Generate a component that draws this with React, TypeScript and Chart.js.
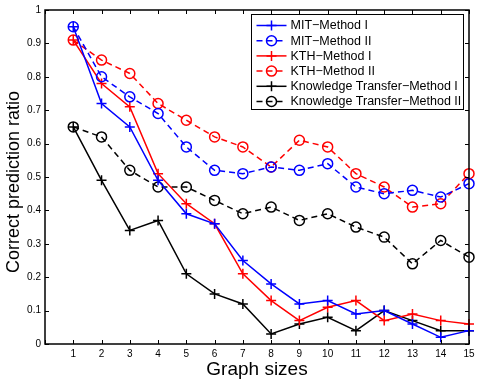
import { useEffect, useRef } from 'react';
import { Chart, registerables } from 'chart.js';

Chart.register(...registerables);

const graphSizes = [1, 2, 3, 4, 5, 6, 7, 8, 9, 10, 11, 12, 13, 14, 15];
const mitMethod1 = [0.95, 0.72, 0.65, 0.49, 0.39, 0.36, 0.25, 0.18, 0.12, 0.13, 0.09, 0.10, 0.06, 0.02, 0.04];
const mitMethod2 = [0.95, 0.80, 0.74, 0.69, 0.59, 0.52, 0.51, 0.53, 0.52, 0.54, 0.47, 0.45, 0.46, 0.44, 0.48];
const kthMethod1 = [0.91, 0.78, 0.71, 0.51, 0.42, 0.36, 0.21, 0.13, 0.07, 0.11, 0.13, 0.07, 0.09, 0.07, 0.06];
const kthMethod2 = [0.91, 0.85, 0.81, 0.72, 0.67, 0.62, 0.59, 0.53, 0.61, 0.59, 0.51, 0.47, 0.41, 0.42, 0.51];
const ktMethod1 = [0.65, 0.49, 0.34, 0.37, 0.21, 0.15, 0.12, 0.03, 0.06, 0.08, 0.04, 0.10, 0.07, 0.04, 0.04];
const ktMethod2 = [0.65, 0.62, 0.52, 0.47, 0.47, 0.43, 0.39, 0.41, 0.37, 0.39, 0.35, 0.32, 0.24, 0.31, 0.26];

const seriesNames = [
  'MIT\u2212Method I',
  'MIT\u2212Method II',
  'KTH\u2212Method I',
  'KTH\u2212Method II',
  'Knowledge Transfer\u2212Method I',
  'Knowledge Transfer\u2212Method II',
];
const seriesColors = ['#0000ff', '#0000ff', '#ff0000', '#ff0000', '#000000', '#000000'];
const seriesValues = [mitMethod1, mitMethod2, kthMethod1, kthMethod2, ktMethod1, ktMethod2];

const FONT = '"Liberation Sans", Arial, Helvetica, sans-serif';
const DASH = [6, 4];

function drawMarker(ctx: CanvasRenderingContext2D, style: string, x: number, y: number, r: number) {
  ctx.beginPath();
  if (style === 'cross') {
    ctx.moveTo(x - r, y);
    ctx.lineTo(x + r, y);
    ctx.moveTo(x, y - r);
    ctx.lineTo(x, y + r);
  } else {
    ctx.arc(x, y, r, 0, Math.PI * 2);
  }
  ctx.stroke();
}

const boxPlugin = {
  id: 'matlabBox',
  afterDraw(chart: any) {
    const ctx: CanvasRenderingContext2D = chart.ctx;
    const { left, right, top, bottom } = chart.chartArea;
    const xs = chart.scales.x;
    const ys = chart.scales.y;
    ctx.save();
    ctx.strokeStyle = '#000';
    ctx.lineWidth = 1;
    ctx.setLineDash([]);
    const tl = 4;
    ctx.beginPath();
    xs.ticks.forEach((t: any) => {
      const px = Math.round(xs.getPixelForValue(t.value)) + 0.5;
      ctx.moveTo(px, bottom);
      ctx.lineTo(px, bottom - tl);
      ctx.moveTo(px, top);
      ctx.lineTo(px, top + tl);
    });
    ys.ticks.forEach((t: any) => {
      const py = Math.round(ys.getPixelForValue(t.value)) + 0.5;
      ctx.moveTo(left, py);
      ctx.lineTo(left + tl, py);
      ctx.moveTo(right, py);
      ctx.lineTo(right - tl, py);
    });
    ctx.stroke();
    ctx.lineWidth = 1.5;
    ctx.strokeRect(left, top, right - left, bottom - top);

    // legend
    const lw = 212;
    const lh = 95;
    const lx = Math.round(right - 6 - lw) + 0.5;
    const ly = Math.round(top + 4) + 0.5;
    ctx.fillStyle = '#fff';
    ctx.fillRect(lx, ly, lw, lh);
    ctx.lineWidth = 1;
    ctx.strokeStyle = '#000';
    ctx.strokeRect(lx, ly, lw, lh);
    ctx.font = `12.5px ${FONT}`;
    ctx.textBaseline = 'middle';
    ctx.textAlign = 'left';
    chart.data.datasets.forEach((ds: any, i: number) => {
      const cy = ly + 11 + i * 15.2;
      ctx.strokeStyle = ds.borderColor;
      ctx.lineWidth = 1.5;
      ctx.setLineDash(ds.borderDash || []);
      ctx.beginPath();
      ctx.moveTo(lx + 5, cy);
      ctx.lineTo(lx + 35, cy);
      ctx.stroke();
      ctx.setLineDash([]);
      drawMarker(ctx, ds.pointStyle, lx + 20, cy, 5);
      ctx.fillStyle = '#000';
      ctx.fillText(ds.label, lx + 39, cy + 0.5);
    });
    ctx.restore();
  },
};

export default function App() {
  const ref = useRef<HTMLCanvasElement>(null);
  useEffect(() => {
    if (!ref.current) return;
    const datasets = seriesValues.map((vals, i) => {
      const dashed = i % 2 === 1;
      return {
        label: seriesNames[i],
        data: graphSizes.map((x, j) => ({ x, y: vals[j] })),
        borderColor: seriesColors[i],
        backgroundColor: 'transparent',
        borderWidth: 1.5,
        borderDash: dashed ? DASH : [],
        pointStyle: dashed ? 'circle' : 'cross',
        pointRadius: 5,
        pointBorderWidth: 1.5,
        pointBorderColor: seriesColors[i],
        pointBackgroundColor: 'transparent',
        tension: 0,
        clip: false as any,
      };
    });
    const chart = new Chart(ref.current, {
      type: 'line',
      data: { datasets },
      options: {
        animation: false,
        responsive: false,
        devicePixelRatio: 1,
        layout: { padding: { top: 10, right: 18, left: 0, bottom: 0 } },
        plugins: { legend: { display: false }, tooltip: { enabled: false } },
        scales: {
          x: {
            type: 'linear',
            min: 0,
            max: 15,
            border: { display: false },
            grid: { display: false, drawTicks: false },
            ticks: {
              stepSize: 1,
              autoSkip: false,
              maxRotation: 0,
              padding: 4,
              color: '#000',
              font: { family: FONT, size: 10 },
              callback: (v: any) => (v === 0 ? '' : String(v)),
            },
            title: {
              display: true,
              text: 'Graph sizes',
              color: '#000',
              font: { family: FONT, size: 19 },
              padding: { top: 0, bottom: 8 },
            },
            afterFit: (s: any) => {
              s.height = 45;
            },
          },
          y: {
            type: 'linear',
            min: 0,
            max: 1,
            border: { display: false },
            grid: { display: false, drawTicks: false },
            ticks: {
              stepSize: 0.1,
              padding: 4,
              color: '#000',
              font: { family: FONT, size: 10 },
              callback: (v: any) => String(Number(Number(v).toFixed(1))),
            },
            title: {
              display: true,
              text: 'Correct prediction ratio  ',
              color: '#000',
              font: { family: FONT, size: 18 },
              padding: { top: 3, bottom: 0 },
            },
            afterFit: (s: any) => {
              s.width = 45;
            },
          },
        },
      },
      plugins: [boxPlugin],
    });
    return () => chart.destroy();
  }, []);
  return (
    <div style={{ position: 'absolute', left: 0, top: 0, width: 487, height: 389, background: '#fff' }}>
      <canvas ref={ref} width={487} height={389} style={{ width: 487, height: 389 }} />
    </div>
  );
}
